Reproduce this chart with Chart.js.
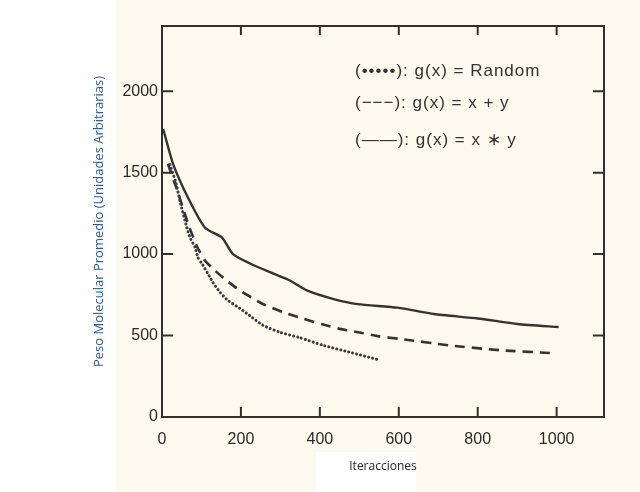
<!DOCTYPE html>
<html>
<head>
<meta charset="utf-8">
<script src="https://cdn.jsdelivr.net/npm/chart.js@4"></script>
<style>
  html, body { margin: 0; padding: 0; background: #ffffff; }
  canvas { display: block; }
</style>
</head>
<body>
<canvas id="myChart" width="640" height="492"></canvas>
<script>
// valores
const xTicks = [0, 200, 400, 600, 800, 1000];
const yTicks = [0, 500, 1000, 1500, 2000];

const legendLines = [
    '(•••••): g(x) = Random',
    '(−−−): g(x) = x + y',
    '(——): g(x) = x ∗ y'
];

// g(x) = Random (punteada)
const randomIter = [20, 35, 46, 63, 71, 84, 91, 101, 116, 129, 147, 167, 197, 228, 256, 299, 349, 408, 480, 552];
const randomPeso = [1550, 1440, 1320, 1162, 1101, 1040, 979, 942, 881, 826, 765, 716, 667, 612, 563, 520, 487, 440, 395, 349];

// g(x) = x + y (discontinua)
const sumaIter = [15, 30, 41, 52, 70, 90, 109, 134, 160, 190, 218, 255, 305, 356, 406, 450, 504, 550, 605, 728, 856, 1000];
const sumaPeso = [1554, 1450, 1376, 1290, 1160, 1040, 960, 899, 845, 789, 746, 694, 645, 605, 569, 541, 517, 495, 479, 440, 410, 391];

// g(x) = x * y (continua)
const prodIter = [3, 28, 66, 109, 152, 180, 223, 281, 324, 367, 435, 496, 597, 689, 800, 901, 1005];
const prodPeso = [1768, 1554, 1346, 1162, 1101, 1000, 942, 881, 838, 777, 724, 693, 671, 632, 605, 571, 552];

const toPoints = (xs, ys) => xs.map((x, i) => ({x: x, y: ys[i]}));

const ink = '#303030';

const paperPlugin = {
    id: 'paper',
    beforeDraw(chart) {
        const c = chart.ctx;
        c.save();
        c.fillStyle = '#ffffff';
        c.fillRect(0, 0, chart.width, chart.height);
        c.fillStyle = '#fcfaee';
        c.fillRect(116, 0, chart.width - 116, 452);
        c.fillRect(116, 452, 200, 40);
        c.fillRect(416, 452, chart.width - 416, 40);
        c.restore();
    }
};

const framePlugin = {
    id: 'frame',
    afterDatasetsDraw(chart) {
        const c = chart.ctx;
        const a = chart.chartArea;
        const xs = chart.scales.x, ys = chart.scales.y;
        c.save();
        c.strokeStyle = ink;
        c.lineWidth = 2;
        c.strokeRect(a.left, a.top, a.right - a.left, a.bottom - a.top);
        c.beginPath();
        xTicks.forEach(v => {
            if (v === 0) return;
            const px = xs.getPixelForValue(v);
            c.moveTo(px, a.bottom); c.lineTo(px, a.bottom - 10);
            c.moveTo(px, a.top); c.lineTo(px, a.top + 9);
        });
        yTicks.forEach(v => {
            if (v === 0) return;
            const py = ys.getPixelForValue(v);
            c.moveTo(a.left, py); c.lineTo(a.left + 11, py);
            c.moveTo(a.right, py); c.lineTo(a.right - 11, py);
        });
        c.stroke();

        // leyenda
        c.fillStyle = '#333333';
        c.font = '17px "Liberation Sans"';
        c.letterSpacing = '1px';
        c.textBaseline = 'middle';
        const lx = a.left + 193;
        [a.top + 45, a.top + 77, a.top + 114].forEach((y, i) => {
            c.fillText(legendLines[i], lx, y);
        });
        c.restore();
    }
};

const data = {
    datasets: [
        {
            label: 'g(x) = Random',
            data: toPoints(randomIter, randomPeso),
            borderColor: '#3c3c3c',
            borderWidth: 3,
            borderDash: [0.1, 4],
            borderCapStyle: 'round',
            pointRadius: 0,
            tension: 0.2
        },
        {
            label: 'g(x) = x + y',
            data: toPoints(sumaIter, sumaPeso),
            borderColor: '#333333',
            borderWidth: 2.6,
            borderDash: [10, 7],
            pointRadius: 0,
            tension: 0.2
        },
        {
            label: 'g(x) = x * y',
            data: toPoints(prodIter, prodPeso),
            borderColor: '#333333',
            borderWidth: 2.4,
            pointRadius: 0,
            tension: 0.2
        }
    ]
};

const config = {
    type: 'line',
    data: data,
    options: {
        responsive: false,
        animation: false,
        layout: {padding: {left: 88, right: 36, top: 26, bottom: 0}},
        plugins: {
            legend: {display: false},
            tooltip: {enabled: false}
        },
        scales: {
            x: {
                type: 'linear',
                min: 0,
                max: 1120,
                afterBuildTicks: s => { s.ticks = xTicks.map(v => ({value: v})); },
                afterFit: s => { s.height = 75; },
                grid: {display: false},
                border: {display: false},
                ticks: {
                    color: '#2a2a2a',
                    font: {family: 'Liberation Sans', size: 16},
                    padding: 5,
                    callback: v => String(v)
                },
                title: {
                    display: true,
                    text: 'Iteracciones',
                    color: '#262626',
                    font: {family: 'Open Sans', size: 12},
                    padding: {top: 0, bottom: 18}
                }
            },
            y: {
                min: 0,
                max: 2400,
                afterBuildTicks: s => { s.ticks = yTicks.map(v => ({value: v})); },
                afterFit: s => { s.width = 74; },
                grid: {display: false},
                border: {display: false},
                ticks: {
                    color: '#2a2a2a',
                    font: {family: 'Liberation Sans', size: 16},
                    padding: -4,
                    callback: v => String(v)
                },
                title: {
                    display: true,
                    text: 'Peso Molecular Promedio (Unidades Arbitrarias)',
                    color: '#2e5c9a',
                    font: {family: 'Open Sans', size: 13},
                    padding: {top: 3, bottom: 0}
                }
            }
        }
    },
    plugins: [paperPlugin, framePlugin]
};

const ctx = document.getElementById('myChart').getContext('2d');
const chart = new Chart(ctx, config);
</script>
</body>
</html>
